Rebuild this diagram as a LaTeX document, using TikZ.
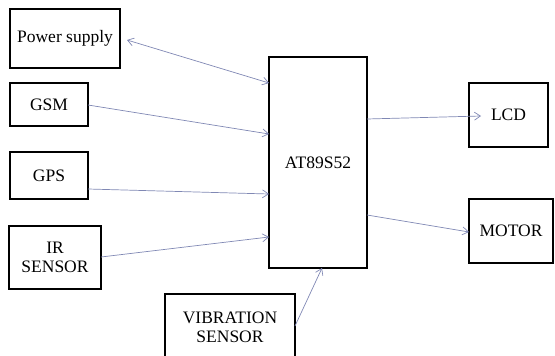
\documentclass[tikz,border=0pt]{standalone}
\usepackage{fontspec}
\setmainfont{Liberation Serif}
\usetikzlibrary{arrows.meta}
\definecolor{arrowcol}{HTML}{8088B4}
\begin{document}
\begin{tikzpicture}[x=1pt,y=-1pt,
  blk/.style={draw=black,line width=1.6pt,rectangle,inner sep=0pt,align=center,
    font=\fontsize{17.5}{19}\selectfont},
  conn/.style={draw=arrowcol,line width=0.7pt,-{Straight Barb[length=6pt,width=8pt]}},
  conn2/.style={draw=arrowcol,line width=0.7pt,{Straight Barb[length=6pt,width=8pt]}-{Straight Barb[length=6pt,width=8pt]}}]
\useasboundingbox (0,0) rectangle (555,356);
\node[blk,minimum width=110pt,minimum height=59pt] (power) at (65,38.5) {Power supply};
\node[blk,minimum width=78pt,minimum height=43pt] (gsm) at (49,104.5) {GSM};
\node[blk,minimum width=78pt,minimum height=47pt] (gps) at (49,175.5) {GPS};
\node[blk,minimum width=92pt,minimum height=63pt] (ir) at (55,257.5) {IR\\SENSOR};
\node[blk,minimum width=130pt,minimum height=66pt] (vib) at (230,327) {VIBRATION\\SENSOR};
\node[blk,minimum width=98pt,minimum height=211pt] (mcu) at (318,162.5) {AT89S52};
\node[blk,minimum width=79pt,minimum height=64pt] (lcd) at (508.5,115) {LCD};
\node[blk,minimum width=84pt,minimum height=64pt] (motor) at (511,231) {MOTOR};
% connector end points
\coordinate (pwrout) at (127,40);
\coordinate (mcuA) at (269,83);
\coordinate (gsmout) at (88,105);
\coordinate (mcuB) at (269,134);
\coordinate (gpsout) at (88,189);
\coordinate (mcuC) at (269,194);
\coordinate (irout) at (101,257);
\coordinate (mcuD) at (269,237);
\coordinate (vibout) at (295,326);
\coordinate (mcuE) at (322,268);
\coordinate (mcuF) at (367,119);
\coordinate (lcdin) at (481,116);
\coordinate (mcuG) at (367,215);
\coordinate (motorin) at (469,232);
\draw[conn2] (pwrout) -- (mcuA);
\draw[conn] (gsmout) -- (mcuB);
\draw[conn] (gpsout) -- (mcuC);
\draw[conn] (irout) -- (mcuD);
\draw[conn] (vibout) -- (mcuE);
\draw[conn] (mcuF) -- (lcdin);
\draw[conn] (mcuG) -- (motorin);
\end{tikzpicture}
\end{document}
